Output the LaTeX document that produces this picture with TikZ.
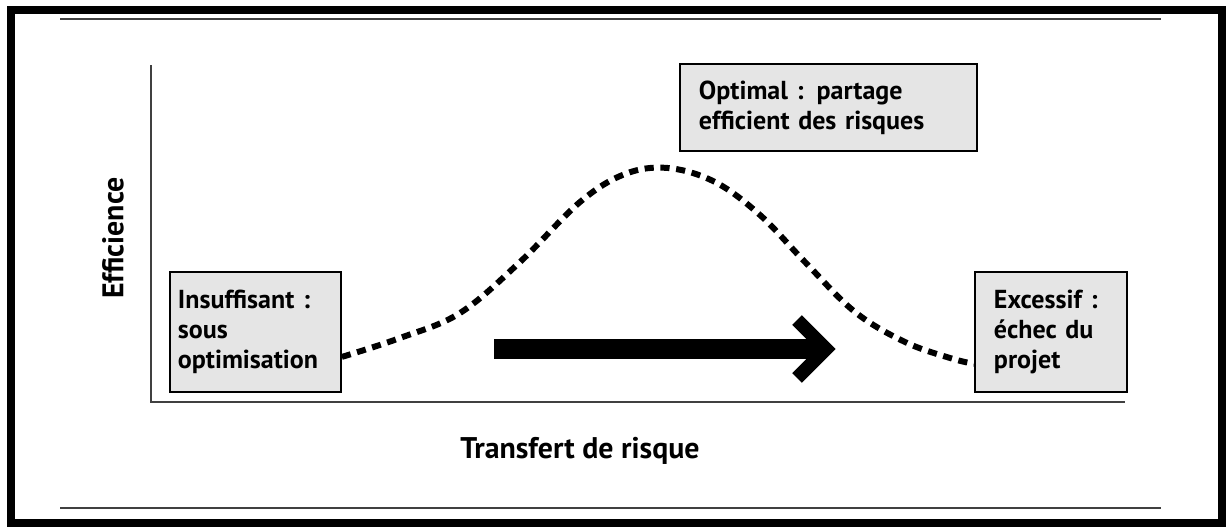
\documentclass[tikz,border=0pt]{standalone}
\usepackage{fontspec}
\setmainfont{PT Sans}
\usetikzlibrary{calc,positioning}
\definecolor{boxgrey}{gray}{0.9}
\definecolor{linegrey}{gray}{0.25}

\begin{document}
\begin{tikzpicture}[x=0.02cm,y=-0.02cm,font=\bfseries\fontsize{14.8}{17}\selectfont]

\tikzset{greybox/.style={draw=black,line width=1.1pt,fill=boxgrey,align=left,inner ysep=0pt,anchor=north west,minimum height=2.4cm},
axislabel/.style={font=\bfseries\fontsize{17}{20}\selectfont},
dotcurve/.style={line width=3.4pt,dash pattern=on 5.2pt off 3.8pt}}

\useasboundingbox (0,0) rectangle (1231,531);

% Frame
\draw[line width=5pt] (11,10) rectangle (1222,523);
\foreach \y in {19,508} \draw[line width=1.2pt,color=linegrey] (60,\y) -- (1161,\y); % rules

% Axis
\coordinate (origin) at (151,402);
\coordinate (yTop) at (151,65);
\coordinate (xEnd) at (1125,402);
\draw[line width=1.2pt,color=linegrey] (yTop) -- (origin) -- (xEnd);
\node[rotate=90,axislabel] (yLabel) at (113,238) {Efficience};
\node[axislabel] (xLabel) at (580,451) {Transfert de risque};

% Boxes
\node (insuff) [greybox,text width=3.1cm,inner xsep=0.16cm] at (169,271) {Insuffisant :\\sous\\optimisation};
\node (optimal) [greybox,text width=5.18cm,inner xsep=0.38cm,minimum height=1.74cm] at (679,63) {Optimal : partage\\efficient des risques};
\node (excess) [greybox,text width=2.28cm,inner xsep=0.38cm] at (974,271) {Excessif :\\échec du\\projet};

% Curve
\coordinate (curveStart) at ($(insuff.south east)+(0,-36)$);
\coordinate (curveEnd) at ($(excess.south west)+(0,-29)$);
\draw[dotcurve] plot[smooth,tension=0.6] coordinates {(curveStart) (400,338) (460,313) (520,262) (580,202) (625,174) (668,168) (715,182) (760,215) (805,262) (855,312) (905,342) (950,358) (curveEnd)};

% Transfer arrow
\coordinate (arrStart) at (494,349);
\coordinate (arrEnd) at (826,349);
\draw[line width=0.4cm] (arrStart) -- ($(arrEnd)+(-8,0)$);
\draw[line width=0.27cm,line join=miter] ($(arrEnd)+(-29,-29)$) -- (arrEnd) -- ($(arrEnd)+(-29,29)$);

\end{tikzpicture}
\end{document}
